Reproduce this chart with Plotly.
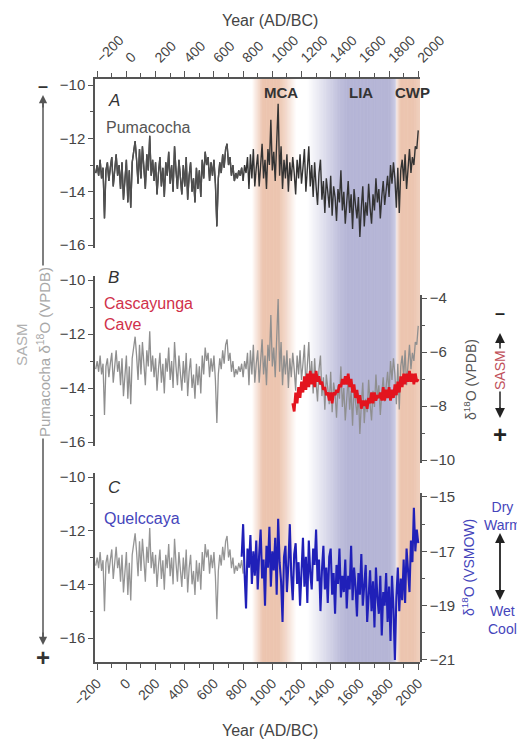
import plotly.graph_objects as go

# page body has an 8px margin: the figure is drawn at (8, 8)
OFF = 8
W, H = 525 - OFF, 740 - OFF

# ---------------- data ----------------
years_puma = list(range(-210, 2001, 10))
puma = [
    -13.3, -13.0, -13.4, -12.8, -13.5, -13.1, -15.0, -13.2, -12.9, -13.6,
    -13.1, -12.7, -13.8, -13.0, -12.6, -13.4, -13.0, -13.9, -12.9, -14.3,
    -13.6, -12.8, -14.4, -13.2, -14.6, -12.9, -12.5, -12.1, -12.8, -13.7,
    -12.4, -13.5, -12.3, -13.0, -13.9, -12.6, -13.2, -11.9, -13.4, -12.8,
    -13.6, -12.9, -14.1, -13.3, -12.7, -13.8, -13.1, -14.2, -12.9, -13.4,
    -12.5, -13.7, -13.0, -14.0, -12.3, -13.2, -13.9, -12.8, -13.5, -14.1,
    -13.0, -13.8, -12.7, -14.3, -13.4, -12.9, -14.0, -13.5, -14.4, -13.1,
    -13.9, -13.2, -14.2, -12.8, -13.5, -12.5, -13.0, -12.7, -13.6, -12.9,
    -13.4, -12.8, -13.7, -15.3, -13.5, -12.9, -13.3, -12.6, -13.1, -12.4,
    -12.2, -13.0, -12.7, -13.4, -13.0, -13.6, -13.3, -13.5, -13.2, -13.4,
    -13.1, -13.6, -13.0, -13.3, -12.7, -13.9, -12.6, -13.5, -12.4, -13.8,
    -13.1, -12.6, -13.8, -12.9, -12.2, -13.5, -12.8, -13.9, -12.4, -13.0,
    -11.3, -13.2, -12.5, -13.6, -11.9, -10.7, -13.4, -12.3, -13.9, -12.8,
    -13.5, -12.6, -14.0, -12.9, -13.6, -12.7, -13.3, -14.1, -12.8, -13.5,
    -12.6, -13.7, -13.1, -12.4, -14.0, -13.2, -12.3, -13.8, -13.0, -14.2,
    -12.9, -13.8, -14.5, -13.3, -12.8, -14.3, -13.6, -14.8, -13.5, -14.0,
    -14.6, -13.4, -14.9, -13.8, -14.2, -15.1, -13.9, -14.4, -13.2, -14.7,
    -14.0, -15.2, -14.3, -13.6, -14.8, -14.1, -15.4, -13.9, -14.5, -15.0,
    -14.2, -15.7, -14.6, -13.8, -15.3, -14.4, -14.9, -13.7, -14.6, -15.2,
    -14.1, -14.7, -13.5, -14.4, -13.9, -15.0, -14.2, -13.6, -14.5, -13.8,
    -13.4, -14.2, -13.0, -13.7, -12.9, -13.5, -14.6, -13.1, -14.8, -13.2,
    -12.8, -13.6, -12.6, -13.9, -12.9, -12.4, -13.3, -12.7, -13.0, -12.3,
    -12.4, -11.7,
]

years_casc = list(range(1140, 2001, 10))
casc = [
    -7.9, -8.2, -7.5, -7.9, -7.3, -7.7, -7.1, -7.5, -6.9, -7.4,
    -6.8, -7.3, -6.7, -7.2, -6.8, -7.3, -6.7, -7.1, -6.9, -7.2,
    -7.1, -7.4, -7.3, -7.6, -7.5, -7.8, -7.5, -7.9, -7.5, -7.6,
    -7.4, -7.5, -7.2, -7.3, -7.0, -7.2, -6.9, -7.2, -6.8, -7.3,
    -7.0, -7.5, -7.2, -7.7, -7.4, -7.9, -7.6, -8.1, -7.8, -8.0,
    -7.8, -8.1, -7.7, -7.9, -7.5, -7.9, -7.5, -7.8, -7.6, -7.7,
    -7.5, -7.8, -7.3, -7.8, -7.4, -7.7, -7.3, -7.8, -7.4, -7.7,
    -7.2, -7.6, -7.1, -7.5, -6.9, -7.3, -6.8, -7.2, -6.8, -7.1,
    -6.7, -7.1, -6.8, -7.2, -6.8, -7.1, -7.0,
]

years_quel = list(range(790, 2001, 10))
quel = [
    -17.2, -16.0, -17.8, -19.1, -16.9, -17.6, -16.4, -18.2, -17.0, -17.9,
    -16.6, -18.4, -17.1, -16.2, -18.0, -17.3, -19.0, -16.8, -17.6, -16.1,
    -18.3, -17.0, -17.7, -16.5, -18.6, -15.8, -17.4, -18.1, -19.6, -17.2,
    -16.8, -18.5, -17.5, -16.0, -17.9, -18.8, -17.1, -16.7, -18.2, -17.4,
    -19.0, -17.6, -16.5, -18.3, -17.2, -18.9, -16.6, -17.8, -18.4, -16.9,
    -17.5, -16.2, -18.1, -17.3, -19.2, -17.7, -16.8, -18.4, -17.6, -18.9,
    -17.2, -16.9, -18.6, -17.8, -19.3, -17.5, -18.2, -16.9, -18.7, -17.9,
    -18.5, -17.3, -19.1, -17.9, -18.4, -16.8, -18.8, -17.6, -18.3, -19.4,
    -17.8, -18.6, -17.1, -19.0, -18.2, -17.5, -19.6, -18.4, -17.7, -19.2,
    -18.1, -19.8, -17.6, -18.7, -19.3, -17.9, -20.1, -18.5, -19.0, -17.8,
    -19.6, -18.3, -20.3, -17.9, -19.1, -21.0, -18.7, -17.6, -19.2, -18.0,
    -18.8, -17.3, -18.9, -16.9, -17.8, -18.5, -16.6, -17.4, -15.4, -17.0,
    -16.2, -16.7,
]

tick_years = list(range(-200, 2001, 200))
left_ticks = [-10, -12, -14, -16]
right_b_ticks = [-4, -6, -8, -10]
right_c_ticks = [-15, -17, -19, -21]

# climate periods: (name, alpha profile (year, alpha), rgb)
periods = [
    ("MCA", [(860, 0), (935, 1), (1045, 1), (1100, 0.6), (1165, 0)], (232, 184, 158)),
    ("LIA", [(1240, 0), (1330, 0.35), (1470, 0.9), (1520, 1), (1805, 1), (1840, 0.7), (1856, 0.3)], (165, 165, 205)),
    ("CWP", [(1850, 0.3), (1878, 1), (1965, 1), (2015, 0.8)], (232, 184, 158)),
]

# ---------------- helpers ----------------
def fx(p):
    return (p - OFF) / W

def fy(p):
    return (H - (p - OFF)) / H

def interp(profile, x):
    if x <= profile[0][0]:
        return profile[0][1]
    for (x0, a0), (x1, a1) in zip(profile[:-1], profile[1:]):
        if x0 <= x <= x1:
            return a0 + (a1 - a0) * (x - x0) / (x1 - x0)
    return profile[-1][1]

FONT = "Liberation Sans, Arial, sans-serif"
AX = "#555555"
TXT = "#444444"

XR = [-215, 2012]

fig = go.Figure()

# Panel A
puma_a_early = [(x, v) for x, v in zip(years_puma, puma) if x <= 800]
fig.add_trace(go.Scatter(x=years_puma, y=puma, mode="lines",
                         line=dict(color="#333333", width=1.4),
                         xaxis="x", yaxis="y", showlegend=False, hoverinfo="skip"))
fig.add_trace(go.Scatter(x=[p[0] for p in puma_a_early], y=[p[1] for p in puma_a_early], mode="lines",
                         line=dict(color="#505050", width=1.3),
                         xaxis="x", yaxis="y", showlegend=False, hoverinfo="skip"))
# Panel B
fig.add_trace(go.Scatter(x=years_puma, y=puma, mode="lines",
                         line=dict(color="#8f8f8f", width=1.3),
                         xaxis="x", yaxis="y2", showlegend=False, hoverinfo="skip"))
fig.add_trace(go.Scatter(x=years_casc, y=casc, mode="lines",
                         line=dict(color="#e3141e", width=2.7),
                         xaxis="x", yaxis="y4", showlegend=False, hoverinfo="skip"))
# Panel C
puma_c = [(x, v) for x, v in zip(years_puma, puma) if x <= 800]
fig.add_trace(go.Scatter(x=[p[0] for p in puma_c], y=[p[1] for p in puma_c], mode="lines",
                         line=dict(color="#959595", width=1.3),
                         xaxis="x2", yaxis="y3", showlegend=False, hoverinfo="skip"))
fig.add_trace(go.Scatter(x=years_quel, y=quel, mode="lines",
                         line=dict(color="#2020b8", width=2.1),
                         xaxis="x2", yaxis="y5", showlegend=False, hoverinfo="skip"))

# background bands (gradient strips)
shapes = []
for name, prof, rgb in periods:
    start, end = prof[0][0], prof[-1][0]
    step = 4
    yr = start
    while yr < end:
        a = interp(prof, yr + step / 2)
        col = tuple(int(round(255 * (1 - a) + c * a)) for c in rgb)
        shapes.append(dict(type="rect", xref="x", yref="paper",
                           x0=yr, x1=min(yr + step + 0.6, end), y0=fy(662), y1=fy(79),
                           fillcolor="rgb(%d,%d,%d)" % col, line=dict(width=0), layer="below"))
        yr += step

# arrow shafts
shapes.append(dict(type="line", xref="paper", yref="paper", x0=fx(43), x1=fx(43),
                   y0=fy(100), y1=fy(640), line=dict(color="#555555", width=1.5)))
shapes.append(dict(type="line", xref="paper", yref="paper", x0=fx(500), x1=fx(500),
                   y0=fy(338), y1=fy(413), line=dict(color="#222222", width=1.5)))
shapes.append(dict(type="line", xref="paper", yref="paper", x0=fx(500), x1=fx(500),
                   y0=fy(538), y1=fy(595), line=dict(color="#222222", width=1.8)))

ann = []

def text(x, y, s, size=16, color=TXT, **kw):
    d = dict(x=fx(x), y=fy(y), xref="paper", yref="paper", text=s, showarrow=False,
             xanchor="center", yanchor="middle",
             font=dict(family=FONT, size=size, color=color))
    d.update(kw)
    ann.append(d)

def arrowhead(x, y, dy, color="#222222", width=1.8):
    ann.append(dict(x=fx(x), y=fy(y), xref="paper", yref="paper", text="", showarrow=True,
                    ax=0, ay=dy, axref="pixel", ayref="pixel", arrowhead=2, arrowsize=1.1,
                    arrowwidth=width, arrowcolor=color, standoff=0, startstandoff=0))

text(270, 20, "Year (AD/BC)", size=16)
text(270, 730, "Year (AD/BC)", size=16)
text(281, 93, "<b>MCA</b>", size=15, color="#333333")
text(361, 93, "<b>LIA</b>", size=15, color="#333333")
text(412, 93, "<b>CWP</b>", size=15, color="#333333")
text(106, 100, "<i>A</i>", size=17, color="#333333", xanchor="left")
text(106, 277, "<i>B</i>", size=17, color="#333333", xanchor="left")
text(106, 487, "<i>C</i>", size=17, color="#333333", xanchor="left")
text(104, 128, "Pumacocha", size=16, color="#555555", xanchor="left")
text(102, 314, "Cascayunga<br>Cave", size=16, color="#d0304a", xanchor="left", align="left")
text(102, 518, "Quelccaya", size=16, color="#4545bb", xanchor="left")

# left SASM arrow
text(21, 345, "SASM", size=15, color="#b0b0b0", textangle=-90)
text(43, 352, "Pumacocha δ<sup>18</sup>O (VPDB)", size=15, color="#a8a8a8", textangle=-90,
     bgcolor="white")
arrowhead(43, 95, 14, color="#555555", width=1.5)
arrowhead(43, 645, -14, color="#555555", width=1.5)
text(43, 86, "<b>–</b>", size=18, color="#333333")
text(43, 657, "<b>+</b>", size=24, color="#333333")

# right axis B labels
text(470, 380, "δ<sup>18</sup>O (VPDB)", size=14, color="#555555", textangle=-90)
text(500, 370, "SASM", size=14, color="#c0505a", textangle=-90, bgcolor="white")
arrowhead(500, 333, 12)
arrowhead(500, 418, -12)
text(500, 313, "<b>–</b>", size=18, color="#222222")
text(500, 434, "<b>+</b>", size=24, color="#222222")

# right axis C labels
text(468, 568, "δ<sup>18</sup>O (VSMOW)", size=14, color="#4545bb", textangle=-90)
text(502, 516, "Dry<br>Warm", size=14, color="#4545bb")
text(502, 620, "Wet<br>Cool", size=14, color="#4545bb")
arrowhead(500, 533, 12)
arrowhead(500, 600, -12)

xdom = [fx(95), fx(420)]
tickfont = dict(family=FONT, size=15, color=TXT)
yax_common = dict(showline=True, linecolor=AX, linewidth=1.5, ticks="outside", ticklen=5,
                  tickcolor=AX, tickwidth=1.3, showgrid=False, zeroline=False,
                  tickfont=tickfont, fixedrange=True)

fig.update_layout(
    width=W, height=H,
    margin=dict(l=0, r=0, t=0, b=0, autoexpand=False),
    paper_bgcolor="white", plot_bgcolor="rgba(0,0,0,0)",
    font=dict(family=FONT, color=TXT),
    showlegend=False,
    shapes=shapes,
    annotations=ann,
    xaxis=dict(domain=xdom, range=XR, anchor="y", side="top", showline=True, linecolor=AX,
               linewidth=1.5, ticks="outside", ticklen=6, tickcolor=AX, tickwidth=1.3,
               tickvals=tick_years, tickangle=-45, showgrid=False, zeroline=False,
               minor=dict(dtick=100, tick0=0, ticks="outside", ticklen=4, tickcolor=AX, tickwidth=1.2),
               tickfont=dict(family=FONT, size=14, color=TXT)),
    xaxis2=dict(domain=xdom, range=XR, anchor="y3", side="bottom", showline=True, linecolor=AX,
                linewidth=1.5, ticks="outside", ticklen=6, tickcolor=AX, tickwidth=1.3,
                tickvals=tick_years, tickangle=-45, showgrid=False, zeroline=False,
                minor=dict(dtick=100, tick0=0, ticks="outside", ticklen=4, tickcolor=AX, tickwidth=1.2),
                tickfont=dict(family=FONT, size=14, color=TXT)),
    yaxis=dict(domain=[fy(248), fy(79)], range=[-16.11, -9.775], anchor="x", side="left",
               tickvals=left_ticks, minor=dict(dtick=1, ticks="outside", ticklen=3, tickcolor=AX),
               **yax_common),
    yaxis2=dict(domain=[fy(446), fy(276)], range=[-16.148, -9.852], anchor="x", side="left",
                tickvals=left_ticks, minor=dict(dtick=1, ticks="outside", ticklen=3, tickcolor=AX),
                **yax_common),
    yaxis3=dict(domain=[fy(662), fy(473)], range=[-16.894, -9.851], anchor="x2", side="left",
                tickvals=left_ticks, minor=dict(dtick=1, ticks="outside", ticklen=3, tickcolor=AX),
                **yax_common),
    yaxis4=dict(domain=[fy(463), fy(295)], range=[-10.111, -3.889], anchor="x", side="right",
                tickvals=right_b_ticks, minor=dict(dtick=1, ticks="outside", ticklen=3, tickcolor=AX),
                **yax_common),
    yaxis5=dict(domain=[fy(662), fy(493)], range=[-21.074, -14.853], anchor="x2", side="right",
                tickvals=right_c_ticks, minor=dict(dtick=1, ticks="outside", ticklen=3, tickcolor=AX),
                **yax_common),
)

fig.write_html("out.html")
